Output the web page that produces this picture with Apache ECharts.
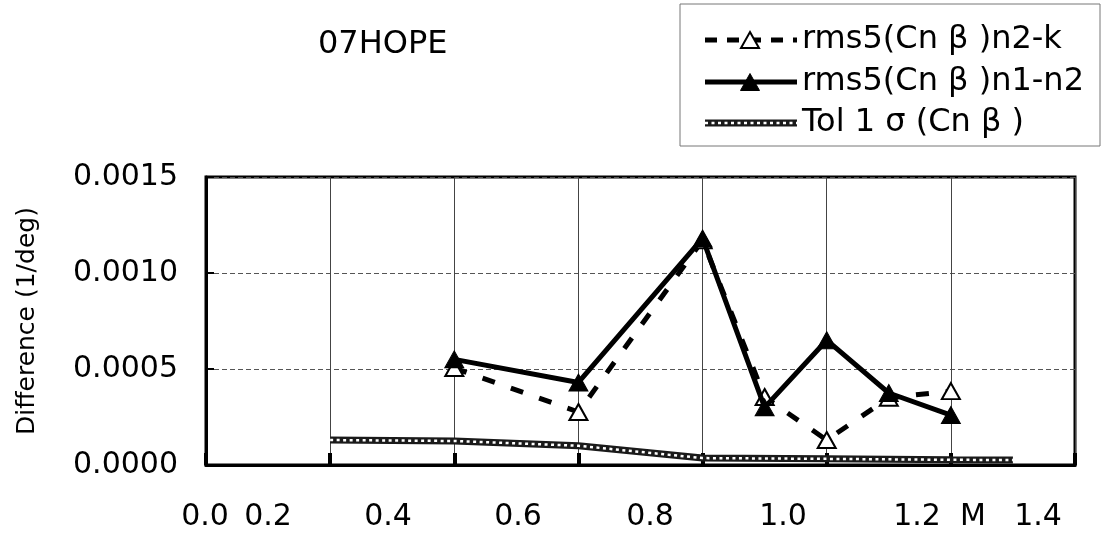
<!DOCTYPE html>
<html>
<head>
<meta charset="utf-8">
<script src="https://cdn.jsdelivr.net/npm/echarts@6/dist/echarts.min.js"></script>
<style>
html, body { margin: 0; padding: 0; background: #fff; }
#chart { width: 1108px; height: 540px; }
</style>
</head>
<body>
<div id="chart"></div>
<script>
// Mach numbers of the wind-tunnel runs
const machNumbers = [0.4, 0.6, 0.8, 0.9, 1.0, 1.1, 1.2];
// rms5 of Cn-beta differences (1/deg)
const rmsN2K = [0.000505, 0.000276, 0.00117, 0.000354, 0.00013, 0.00035, 0.000385];
const rmsN1N2 = [0.00055, 0.00043, 0.00118, 0.0003, 0.00065, 0.000375, 0.00026];
// 1-sigma tolerance of Cn-beta
const tolMach = [0.2, 0.4, 0.6, 0.8, 1.0, 1.2, 1.3];
const tolSigma = [0.00013, 0.000125, 0.0001, 0.000036, 0.000032, 0.000027, 0.000026];

const xTickLabels = ['0.0', '0.2', '0.4', '0.6', '0.8', '1.0', '1.2', 'M', '1.4'];
const seriesNames = ['rms5(Cn β )n2-k', 'rms5(Cn β )n1-n2', 'Tol 1 σ (Cn β )'];
const titleText = '07HOPE';
const yAxisTitle = 'Difference (1/deg)';

// layout
const FONT = 'DejaVu Sans';
const xLabelCenters = [205, 268, 388, 518, 650, 783, 917, 973, 1038];
const xLabelY = 517;
const legendBox = { x: 680, y: 4, w: 420, h: 142 };
const legendRowY = [40, 82, 123];

const pairs = (xs, ys) => xs.map((x, i) => [x, ys[i]]);

function triangle(cx, cy, w, h) {
  return [[cx, cy - h / 2], [cx + w / 2, cy + h / 2], [cx - w / 2, cy + h / 2]];
}

const graphics = [];
// x tick labels
xTickLabels.forEach((t, i) => {
  graphics.push({
    type: 'text', x: xLabelCenters[i], y: xLabelY,
    style: { text: t, fontSize: 30, fontFamily: FONT, fill: '#000', align: 'center', verticalAlign: 'middle' }
  });
});
// legend frame
graphics.push({
  type: 'rect',
  shape: { x: legendBox.x, y: legendBox.y, width: legendBox.w, height: legendBox.h },
  style: { fill: '#fff', stroke: '#777', lineWidth: 1 }, z: 10
});
const iconX0 = 705, iconX1 = 797, iconMid = 750, textX = 802;
// row 1: dashed line with open triangle
graphics.push({ type: 'line', shape: { x1: iconX0, y1: legendRowY[0], x2: iconX1, y2: legendRowY[0] },
  style: { stroke: '#000', lineWidth: 5, lineDash: [12, 10] }, z: 11 });
graphics.push({ type: 'polygon', shape: { points: triangle(iconMid, legendRowY[0], 18, 16) },
  style: { fill: '#fff', stroke: '#000', lineWidth: 2 }, z: 12 });
// row 2: solid line with filled triangle
graphics.push({ type: 'line', shape: { x1: iconX0, y1: legendRowY[1], x2: iconX1, y2: legendRowY[1] },
  style: { stroke: '#000', lineWidth: 5 }, z: 11 });
graphics.push({ type: 'polygon', shape: { points: triangle(iconMid, legendRowY[1], 19, 17) },
  style: { fill: '#000', stroke: '#000', lineWidth: 1 }, z: 12 });
// row 3: chain line
graphics.push({ type: 'line', shape: { x1: iconX0, y1: legendRowY[2], x2: iconX1, y2: legendRowY[2] },
  style: { stroke: '#1a1a1a', lineWidth: 7 }, z: 11 });
graphics.push({ type: 'line', shape: { x1: iconX0, y1: legendRowY[2], x2: iconX1, y2: legendRowY[2] },
  style: { stroke: '#fff', lineWidth: 2.5, lineDash: [3, 3.5] }, z: 12 });
seriesNames.forEach((n, i) => {
  graphics.push({ type: 'text', x: textX, y: legendRowY[i],
    style: { text: n, fontSize: 32, fontFamily: FONT, fill: '#000', verticalAlign: 'middle' }, z: 12 });
});

const chart = echarts.init(document.getElementById('chart'), null, { renderer: 'canvas' });
chart.setOption({
  animation: false,
  backgroundColor: '#fff',
  title: {
    text: titleText, left: 313, top: 24,
    textStyle: { fontSize: 32, fontWeight: 'normal', fontFamily: FONT, color: '#000' }
  },
  grid: {
    left: 206, right: 33, top: 177, bottom: 75,
    show: true, borderColor: '#000', borderWidth: 3, backgroundColor: '#fff'
  },
  xAxis: {
    type: 'value', min: 0, max: 1.4, interval: 0.2,
    axisLine: { show: true, lineStyle: { color: '#000', width: 3 } },
    axisTick: { show: true, inside: true, length: 12, lineStyle: { color: '#000', width: 4 } },
    axisLabel: { show: false },
    splitLine: { show: true, lineStyle: { color: '#444', width: 1 } }
  },
  yAxis: {
    type: 'value', min: 0, max: 0.0015, interval: 0.0005,
    name: yAxisTitle, nameLocation: 'middle', nameGap: 166,
    nameTextStyle: { fontSize: 25, fontFamily: FONT, color: '#000' },
    axisLine: { show: true, lineStyle: { color: '#000', width: 3 } },
    axisTick: { show: true, inside: true, length: 8, lineStyle: { color: '#000', width: 2 } },
    axisLabel: { fontSize: 30, fontFamily: FONT, color: '#000', margin: 28,
      formatter: v => v.toFixed(4) },
    splitLine: { show: true, lineStyle: { color: '#555', width: 1, type: [5, 3] } }
  },
  series: [
    {
      name: seriesNames[2], type: 'line', data: pairs(tolMach, tolSigma),
      symbol: 'none', lineStyle: { color: '#1a1a1a', width: 7 }, z: 2, silent: true
    },
    {
      name: seriesNames[2] + ' ', type: 'line', data: pairs(tolMach, tolSigma),
      symbol: 'none', lineStyle: { color: '#fff', width: 2.5, type: [3, 3.5] }, z: 3, silent: true
    },
    {
      name: seriesNames[0], type: 'line', data: pairs(machNumbers, rmsN2K),
      symbol: 'triangle', symbolSize: [18, 16],
      lineStyle: { color: '#000', width: 5, type: [13, 17] },
      itemStyle: { color: '#fff', borderColor: '#000', borderWidth: 2 }, z: 4
    },
    {
      name: seriesNames[1], type: 'line', data: pairs(machNumbers, rmsN1N2),
      symbol: 'triangle', symbolSize: [19, 17],
      lineStyle: { color: '#000', width: 5 },
      itemStyle: { color: '#000', borderColor: '#000', borderWidth: 1 }, z: 5
    }
  ],
  graphic: graphics
});
</script>
</body>
</html>
